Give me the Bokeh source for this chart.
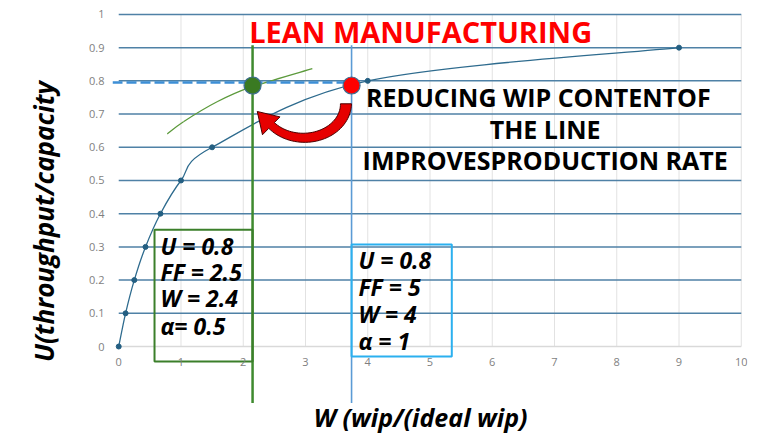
import math
from bokeh.plotting import figure
from bokeh.models import FixedTicker, NumeralTickFormatter
from bokeh.core.properties import value
from bokeh.embed import file_html
from bokeh.resources import INLINE

# ---------------- data ----------------
W_VALUES = [0, 0.11, 0.25, 0.43, 0.67, 1.0, 1.5, 4.0, 9.0]
U_VALUES = [0, 0.1, 0.2, 0.3, 0.4, 0.5, 0.6, 0.8, 0.9]

GREEN_W = [0.78, 1.04, 1.58, 2.12, 3.11]
GREEN_U = [0.64, 0.677, 0.737, 0.781, 0.837]

MARKER_W = [2.15, 3.74]
MARKER_U = [0.786, 0.786]
MARKER_COLORS = ["#3a7a22", "#ff0000"]

TARGET_U = 0.795

X_TICKS = [0, 1, 2, 3, 4, 5, 6, 7, 8, 9, 10]
Y_TICKS = [0, 0.1, 0.2, 0.3, 0.4, 0.5, 0.6, 0.7, 0.8, 0.9, 1.0]

TITLE = "LEAN MANUFACTURING"
NOTE_LINES = ["REDUCING WIP CONTENTOF", "THE LINE", "IMPROVESPRODUCTION RATE"]
GREEN_BOX_LINES = ["U = 0.8", "FF = 2.5", "W = 2.4", "α= 0.5"]
BLUE_BOX_LINES = ["U = 0.8", "FF = 5", "W = 4", "α = 1"]
X_TITLE = "W (wip/(ideal wip)"
Y_TITLE = "U(throughput/capacity"

# ---------------- figure ----------------
X0, X1 = -0.1, 10.1
Y0, Y1 = -0.277, 1.03
BL, BR, BT, BB = 112, 33, 4, 0
W_PX, H_PX = 780, 438
SX = (W_PX - BL - BR) / (X1 - X0)   # px per x unit
SY = (H_PX - BT - BB) / (Y1 - Y0)   # px per y unit

p = figure(width=W_PX, height=H_PX, x_range=(X0, X1), y_range=(Y0, Y1),
           output_backend="svg", toolbar_location=None,
           min_border_left=BL, min_border_right=BR,
           min_border_top=BT, min_border_bottom=BB)
p.outline_line_color = None
p.grid.visible = False
p.background_fill_color = "white"
p.border_fill_color = "white"

FONT = "Open Sans"

# x axis drawn at U = 0 inside the frame
p.xaxis.ticker = FixedTicker(ticks=X_TICKS)
p.xaxis.fixed_location = 0
p.xaxis.axis_line_color = None
p.xaxis.major_tick_line_color = None
p.xaxis.minor_tick_line_color = None
p.xaxis.major_label_text_color = "#7f7f7f"
p.xaxis.major_label_text_font = FONT
p.xaxis.major_label_text_font_size = "11px"
p.xaxis.major_label_standoff = 5

# y axis
p.yaxis.ticker = FixedTicker(ticks=Y_TICKS)
p.yaxis.formatter = NumeralTickFormatter(format="0.[0]")
p.yaxis.axis_line_color = None
p.yaxis.major_tick_line_color = None
p.yaxis.minor_tick_line_color = None
p.yaxis.major_label_text_color = "#7f7f7f"
p.yaxis.major_label_text_font = FONT
p.yaxis.major_label_text_font_size = "11px"
p.yaxis.major_label_standoff = 2
p.yaxis.axis_label = Y_TITLE
p.yaxis.axis_label_text_font = FONT
p.yaxis.axis_label_text_font_style = "bold italic"
p.yaxis.axis_label_text_font_size = "26px"
p.yaxis.axis_label_text_color = "black"
p.yaxis.axis_label_standoff = 24

# grid lines (drawn only over the data area)
xmin, xmax = X_TICKS[0], X_TICKS[-1]
ymin, ymax = Y_TICKS[0], Y_TICKS[-1]
vx = X_TICKS[1:]
p.segment(x0=vx, y0=[ymin] * len(vx), x1=vx, y1=[ymax] * len(vx),
          line_color="#e2e2e2", line_width=1)
p.segment(x0=[xmin], y0=[ymin], x1=[xmax], y1=[ymin], line_color="#d9d9d9", line_width=1.5)
hy = Y_TICKS[1:]
p.segment(x0=[xmin] * len(hy), y0=hy, x1=[xmax] * len(hy), y1=hy,
          line_color="#4f81a6", line_width=1.5)


def smooth(xs, ys):
    """Catmull-Rom style smoothing rendered as bezier segments between data points."""
    n = len(xs)
    out = dict(x0=[], y0=[], x1=[], y1=[], cx0=[], cy0=[], cx1=[], cy1=[])
    for i in range(n - 1):
        pa = max(i - 1, 0)
        pb = min(i + 2, n - 1)
        out["x0"].append(xs[i]); out["y0"].append(ys[i])
        out["x1"].append(xs[i + 1]); out["y1"].append(ys[i + 1])
        out["cx0"].append(xs[i] + (xs[i + 1] - xs[pa]) / 6)
        out["cy0"].append(ys[i] + (ys[i + 1] - ys[pa]) / 6)
        out["cx1"].append(xs[i + 1] - (xs[pb] - xs[i]) / 6)
        out["cy1"].append(ys[i + 1] - (ys[pb] - ys[i]) / 6)
    return out


p.bezier(**smooth(W_VALUES, U_VALUES), line_color="#2e6b8e", line_width=1.3)
p.scatter(W_VALUES, U_VALUES, size=5, color="#245f82")
p.bezier(**smooth(GREEN_W, GREEN_U), line_color="#5c9a3c", line_width=1.3)

# dashed target line
p.segment(x0=[X0], y0=[TARGET_U], x1=[MARKER_W[1]], y1=[TARGET_U],
          line_color="#3d8fd6", line_width=2.5, line_dash="10 4")

# vertical reference lines
p.segment(x0=[MARKER_W[0]], y0=[0.907], x1=[MARKER_W[0]], y1=[-0.17],
          line_color="#3f8a2f", line_width=2.5)
p.segment(x0=[MARKER_W[1]], y0=[0.907], x1=[MARKER_W[1]], y1=[-0.17],
          line_color="#5b9bd5", line_width=1.6)

# curved arrow (from red point back to green point)
cxd = (MARKER_W[0] + MARKER_W[1]) / 2 + 0.03
cyd = MARKER_U[0] - 0.055
a_px, b_px = 42.0, 34.0
t_end = 0.78 * math.pi
outer, inner = [], []
steps = 40
for k in range(steps + 1):
    t = t_end * k / steps
    w = 5.5 - 1.5 * k / steps
    px, py = a_px * math.cos(t), b_px * math.sin(t)
    nx, ny = b_px * math.cos(t), a_px * math.sin(t)
    nl = math.hypot(nx, ny)
    nx, ny = nx / nl, ny / nl
    outer.append((px + w * nx, py + w * ny))
    inner.append((px - w * nx, py - w * ny))
px, py = a_px * math.cos(t_end), b_px * math.sin(t_end)
nx, ny = b_px * math.cos(t_end), a_px * math.sin(t_end)
nl = math.hypot(nx, ny); nx, ny = nx / nl, ny / nl
tx, ty = -a_px * math.sin(t_end), b_px * math.cos(t_end)
tl = math.hypot(tx, ty); tx, ty = tx / tl, ty / tl
head = [(px + 13 * nx, py + 13 * ny), (px + 20 * tx, py + 20 * ty), (px - 12 * nx, py - 12 * ny)]
poly = outer + head + inner[::-1]
arrow_x = [cxd + dx / SX for dx, dy in poly]
arrow_y = [cyd - dy / SY for dx, dy in poly]
p.patch(arrow_x, arrow_y, fill_color="#e60000", line_color="#4a0000", line_width=1)

# markers
p.scatter(MARKER_W, MARKER_U, size=17, fill_color=MARKER_COLORS,
          line_color="#3d6e92", line_width=1.2)

# parameter boxes
p.quad(left=[0.575], right=[MARKER_W[0]], top=[0.352], bottom=[-0.045],
       fill_color=None, line_color="#3b7f2a", line_width=2)
p.quad(left=[MARKER_W[1]], right=[5.35], top=[0.307], bottom=[-0.03],
       fill_color=None, line_color="#2bb0ef", line_width=2)

p.text(x=[0.67] * 4, y=[0.304, 0.224, 0.145, 0.063], text=GREEN_BOX_LINES,
       text_font=value(FONT), text_font_style="bold italic", text_font_size="23px",
       text_color="black", text_baseline="middle", text_align="left")
p.text(x=[3.85] * 4, y=[0.26, 0.178, 0.098, 0.017], text=BLUE_BOX_LINES,
       text_font=value(FONT), text_font_style="bold italic", text_font_size="23px",
       text_color="black", text_baseline="middle", text_align="left")

# title and note
p.text(x=[4.85], y=[0.948], text=[TITLE], text_font=value(FONT),
       text_font_style="bold", text_font_size="29px", text_color="#ff0000",
       text_baseline="middle", text_align="center")
p.text(x=[6.74, 6.85, 6.85], y=[0.75, 0.655, 0.563], text=NOTE_LINES, text_font=value(FONT),
       text_font_style="bold", text_font_size="25px", text_color="black",
       text_baseline="middle", text_align="center")

# x axis title
p.text(x=[4.85], y=[-0.212], text=[X_TITLE], text_font=value(FONT),
       text_font_style="bold italic", text_font_size="25px", text_color="black",
       text_baseline="middle", text_align="center")

open("out.html", "w").write(file_html(p, INLINE))
